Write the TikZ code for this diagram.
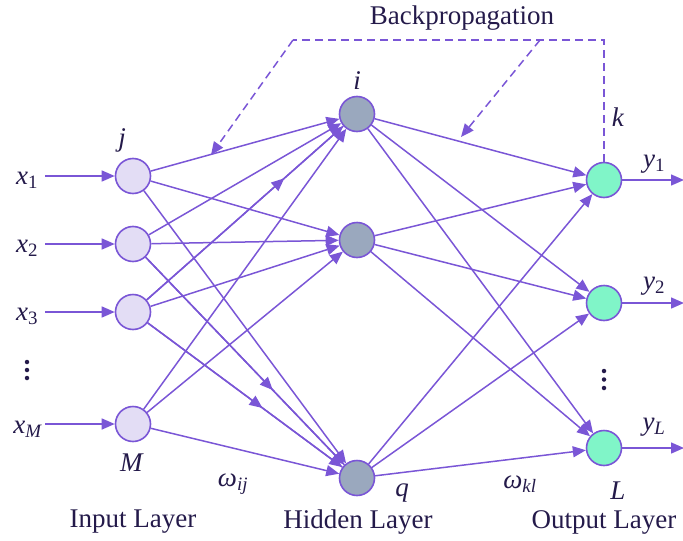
\documentclass[tikz,border=0pt]{standalone}
\usepackage{fontspec}
\setmainfont{Liberation Serif}
\usetikzlibrary{arrows.meta,decorations.markings}
\definecolor{lc}{RGB}{122,86,214}
\definecolor{tc}{RGB}{36,26,74}
\definecolor{inf}{RGB}{227,221,245}
\definecolor{hidf}{RGB}{154,168,190}
\definecolor{outf}{RGB}{128,245,200}
\newcommand{\lbl}[2]{\textit{#1}\textsubscript{#2}}
\begin{document}
\begin{tikzpicture}[x=1pt,y=-1pt,
  neuron/.style={circle,draw=lc,line width=1.6pt,minimum size=35pt,inner sep=0pt},
  inneuron/.style={neuron,fill=inf},
  hidneuron/.style={neuron,fill=hidf},
  outneuron/.style={neuron,fill=outf},
  tip/.style={-{Triangle[length=13pt,width=11pt]}},
  conn/.style={draw=lc,line width=1.5pt,tip},
  bp/.style={draw=lc,line width=1.5pt,dash pattern=on 8pt off 5pt},
  txt/.style={text=tc,font=\fontsize{27}{32}\selectfont,inner sep=0pt},
  dotn/.style={circle,fill=tc,inner sep=0pt,minimum size=4.5pt},
  midarrow/.style={postaction={decorate},decoration={markings,mark=at position #1 with {\arrow[lc]{Triangle[length=13pt,width=11pt]}}}}
]
\useasboundingbox (0,0) rectangle (683,541);
% nodes
\node[inneuron] (I1) at (133,176) {};
\node[inneuron] (I2) at (133,244) {};
\node[inneuron] (I3) at (133,312) {};
\node[inneuron] (IM) at (133,424) {};
\node[hidneuron] (H1) at (357,114) {};
\node[hidneuron] (H2) at (357,240) {};
\node[hidneuron] (HQ) at (357,478) {};
\node[outneuron] (O1) at (604,180) {};
\node[outneuron] (O2) at (604,303) {};
\node[outneuron] (OL) at (604,448) {};
% input side
\foreach \n/\y in {1/176,2/244,3/312,M/424}{
  \coordinate (s\n) at (45,\y);
  \draw[conn] (s\n) -- (I\n);
}
\node[txt] (lx1) at (27,180) {\lbl{x}{1}};
\node[txt] (lx2) at (27,248) {\lbl{x}{2}};
\node[txt] (lx3) at (27,316) {\lbl{x}{3}};
\node[txt] (lxM) at (28,429) {\lbl{x}{\textit{M}}};
\node[dotn] (da1) at (27,362) {};
\node[dotn] (da2) at (27,370) {};
\node[dotn] (da3) at (27,378) {};
% output side
\foreach \n/\y in {1/180,2/303,L/448}{
  \coordinate (e\n) at (684,\y);
  \draw[conn] (O\n) -- (e\n);
}
\node[txt] (ly1) at (654,164) {\lbl{y}{1}};
\node[txt] (ly2) at (654,286) {\lbl{y}{2}};
\node[txt] (lyL) at (654,427) {\lbl{y}{\textit{L}}};
\node[dotn] (db1) at (604,371) {};
\node[dotn] (db2) at (604,379.5) {};
\node[dotn] (db3) at (604,388) {};
% input -> hidden
\foreach \a in {I1,I2,I3,IM}{
  \foreach \b in {H1,H2,HQ}{
    \draw[conn] (\a) -- (\b);
  }
}
\path[draw=lc,line width=1.5pt,midarrow=0.70] (I3) -- (H1);
\path[draw=lc,line width=1.5pt,midarrow=0.64] (I2) -- (HQ);
\path[draw=lc,line width=1.5pt,midarrow=0.59] (I3) -- (HQ);
% hidden -> output
\foreach \a in {H1,H2,HQ}{
  \foreach \b in {O1,O2,OL}{
    \draw[conn] (\a) -- (\b);
  }
}
% labels
\node[txt] (lj) at (122,140) {\textit{j}};
\node[txt] (lM) at (132,463) {\textit{M}};
\node[txt] (li) at (357,81) {\textit{i}};
\node[txt] (lq) at (402,493) {\textit{q}};
\node[txt] (lk) at (618,117) {\textit{k}};
\node[txt] (lL) at (618,491) {\textit{L}};
\node[txt] (wij) at (233,484) {\lbl{ω}{\textit{ij}}};
\node[txt] (wkl) at (520,484) {\lbl{ω}{\textit{kl}}};
\node[txt] (Lin) at (133,522) {Input Layer};
\node[txt] (Lhid) at (358,522) {Hidden Layer};
\node[txt] (Lout) at (604,522) {Output Layer};
\node[txt] (Lbp) at (462,18) {Backpropagation};
% backpropagation
\coordinate (c1) at (604,40);
\coordinate (c2) at (293,40);
\coordinate (c3) at (540,40);
\coordinate (t1) at (211,155);
\coordinate (t2) at (461,137);
\draw[bp] (O1.north) -- (c1) -- (c2);
\draw[bp,tip] (c2) -- (t1);
\draw[bp,tip] (c3) -- (t2);
\end{tikzpicture}
\end{document}
